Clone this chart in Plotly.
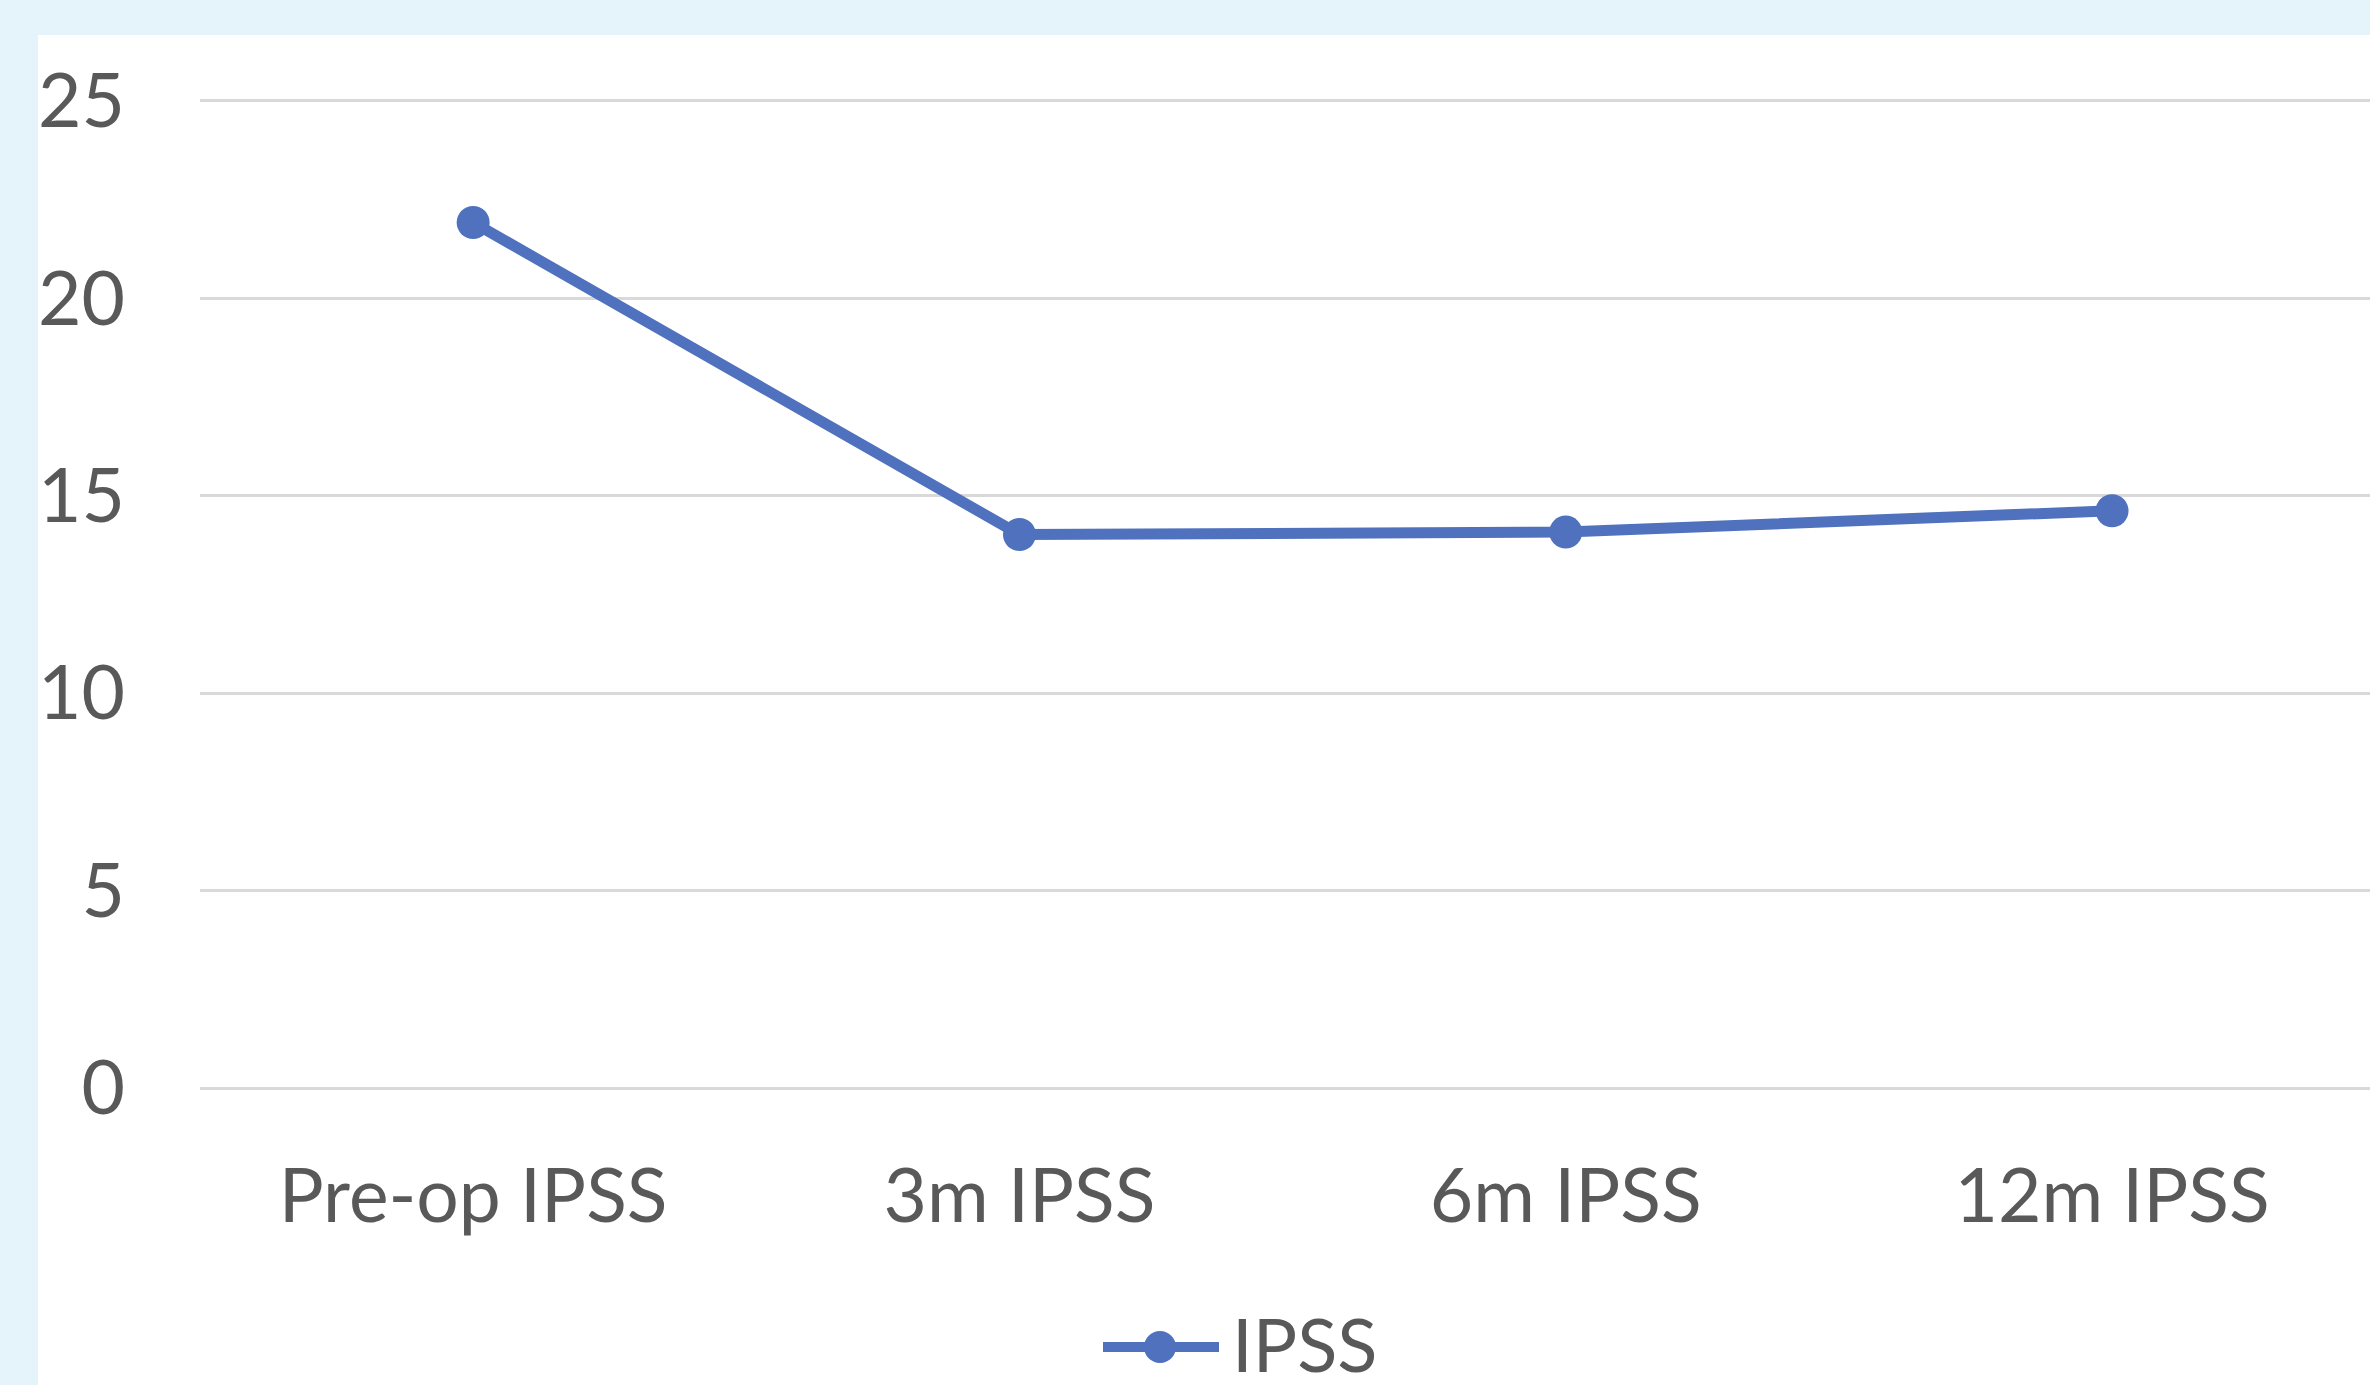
import plotly.graph_objects as go

categories = ["Pre-op IPSS", "3m IPSS", "6m IPSS", "12m IPSS"]
ipss_values = [21.92, 14.02, 14.08, 14.62]
series_name = "IPSS"
y_ticks = [0, 5, 10, 15, 20, 25]

W, H = 2370, 1385
Y0_PX, Y25_PX = 1088, 101          # pixel rows of 0 and 25
PX_PER_UNIT = (Y0_PX - Y25_PX) / 25.0
PAD_UNITS = 0.15                     # so that edge gridlines are drawn
Y_MIN, Y_MAX = -PAD_UNITS, 25 + PAD_UNITS
MT = round(Y25_PX - PAD_UNITS * PX_PER_UNIT)
PLOT_BOTTOM = round(Y0_PX + PAD_UNITS * PX_PER_UNIT)
ML = 200
PW = W - ML
PH = PLOT_BOTTOM - MT
BAND = 546.3                          # pixel width of one category

LINE_COLOR = "#4F71BE"
TEXT_COLOR = "#595959"
GRID_COLOR = "#D9D9D9"
BORDER_BG = "#E5F3FB"
FONT = "Lato"
FSIZE = 75


def px_x(p):
    return (p - ML) / PW


def px_y(p):
    return (PLOT_BOTTOM - p) / PH


fig = go.Figure()
fig.add_trace(go.Scatter(
    x=categories, y=ipss_values, name=series_name,
    mode="lines+markers",
    line=dict(color=LINE_COLOR, width=11),
    marker=dict(color=LINE_COLOR, size=33, line=dict(width=0)),
    cliponaxis=False, showlegend=False,
))

shapes = [
    # white chart area over the light blue frame
    dict(type="rect", xref="paper", yref="paper", layer="below",
         x0=px_x(38), x1=px_x(W + 50), y0=px_y(H + 50), y1=px_y(35),
         fillcolor="white", line=dict(width=0)),
    # legend symbol
    dict(type="line", xref="paper", yref="paper",
         x0=px_x(1103), x1=px_x(1219), y0=px_y(1347), y1=px_y(1347),
         line=dict(color=LINE_COLOR, width=10)),
    dict(type="circle", xref="paper", yref="paper",
         x0=px_x(1144), x1=px_x(1176), y0=px_y(1331), y1=px_y(1363),
         fillcolor=LINE_COLOR, line=dict(width=0)),
]

annotations = [
    dict(text=series_name, xref="paper", yref="paper",
         x=px_x(1230), y=px_y(1343), xanchor="left", yanchor="middle",
         showarrow=False, font=dict(family=FONT, size=74, color=TEXT_COLOR)),
]

fig.update_layout(
    width=W, height=H,
    margin=dict(l=ML, r=0, t=MT, b=H - PLOT_BOTTOM, pad=0),
    paper_bgcolor=BORDER_BG,
    plot_bgcolor="white",
    font=dict(family=FONT, size=FSIZE, color=TEXT_COLOR),
    shapes=shapes,
    annotations=annotations,
    xaxis=dict(
        type="category",
        range=[-0.5, -0.5 + PW / BAND],
        showgrid=False, zeroline=False, showline=False,
        ticks="outside", ticklen=0, tickcolor="rgba(0,0,0,0)",
        ticklabelstandoff=37,
        tickfont=dict(family=FONT, size=FSIZE, color=TEXT_COLOR),
    ),
    yaxis=dict(
        range=[Y_MIN, Y_MAX],
        tickvals=y_ticks,
        showgrid=True, gridcolor=GRID_COLOR, gridwidth=3,
        zeroline=False, showline=False,
        ticks="outside", ticklen=0, tickcolor="rgba(0,0,0,0)",
        ticklabelstandoff=59,
        tickfont=dict(family=FONT, size=FSIZE, color=TEXT_COLOR),
    ),
)

fig.write_html(
    "out.html",
    config={"displayModeBar": False},
    post_script="document.body.style.margin='0';document.body.style.overflow='hidden';",
)
